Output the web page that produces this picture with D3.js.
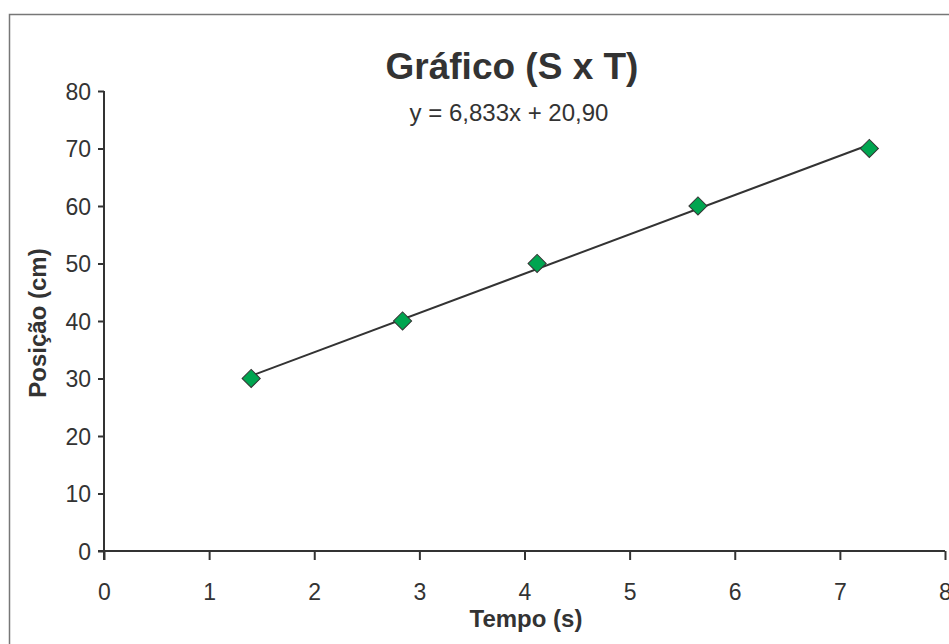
<!DOCTYPE html>
<html>
<head>
<meta charset="utf-8">
<script src="https://cdn.jsdelivr.net/npm/d3@7"></script>
<style>
  body { margin: 0; background: #fff; }
  svg { display: block; font-family: "Liberation Sans", Arial, sans-serif; }
</style>
</head>
<body>
<div id="chart"></div>
<script>
// data
const tempo = [1.40, 2.84, 4.12, 5.65, 7.28];
const posicao = [30, 40, 50, 60, 70];
const xTicks = [0, 1, 2, 3, 4, 5, 6, 7, 8];
const yTicks = [0, 10, 20, 30, 40, 50, 60, 70, 80];
// trendline shown in the chart
const slope = 6.833;
const intercept = 20.90;
const equationLabel = 'y = 6,833x + 20,90';

const width = 949, height = 644;
const margin = { left: 104, right: 4, top: 91, bottom: 93 };

const svg = d3.select('#chart').append('svg')
  .attr('width', width)
  .attr('height', height);

// outer chart border (only left and top visible in the frame)
svg.append('rect')
  .attr('x', 9.5).attr('y', 14.5)
  .attr('width', 1000).attr('height', 700)
  .attr('fill', 'none')
  .attr('stroke', '#777')
  .attr('stroke-width', 1.5);

const x = d3.scaleLinear().domain([0, 8]).range([margin.left, width - margin.right]);
const y = d3.scaleLinear().domain([0, 80]).range([height - margin.bottom, margin.top]);

// y axis
const yAxis = svg.append('g')
  .attr('transform', `translate(${x(0)},0)`)
  .call(d3.axisLeft(y).tickValues(yTicks).tickSize(6).tickSizeOuter(0).tickPadding(7));
yAxis.select('.domain').attr('stroke', '#333').attr('stroke-width', 2)
  .attr('d', `M0,${y(80)}V${y(0) + 9}`);
yAxis.selectAll('.tick line').attr('stroke', '#333').attr('stroke-width', 2);
yAxis.selectAll('.tick text')
  .attr('fill', '#333')
  .style('font-size', '23px')
  .attr('dy', '0.35em');

// x axis
const xAxis = svg.append('g')
  .attr('transform', `translate(0,${y(0)})`)
  .call(d3.axisBottom(x).tickValues(xTicks).tickSize(9).tickSizeOuter(0).tickPadding(24));
xAxis.select('.domain').attr('stroke', '#333').attr('stroke-width', 2)
  .attr('d', `M${x(0) - 6},0H${x(8)}`);
xAxis.selectAll('.tick line').attr('stroke', '#333').attr('stroke-width', 2);
xAxis.selectAll('.tick text')
  .attr('fill', '#333')
  .style('font-size', '23px');

// trendline between first and last point
const xMin = d3.min(tempo), xMax = d3.max(tempo);
svg.append('line')
  .attr('x1', x(xMin)).attr('y1', y(slope * xMin + intercept))
  .attr('x2', x(xMax)).attr('y2', y(slope * xMax + intercept))
  .attr('stroke', '#333')
  .attr('stroke-width', 2);

// diamond markers
const diamond = d3.symbol().type(d3.symbolSquare).size(165);
svg.selectAll('.pt')
  .data(tempo.map((t, i) => [t, posicao[i]]))
  .enter().append('path')
  .attr('class', 'pt')
  .attr('d', diamond)
  .attr('transform', d => `translate(${x(d[0])},${y(d[1])}) rotate(45)`)
  .attr('fill', '#00a550')
  .attr('stroke', '#333')
  .attr('stroke-width', 1);

// title
svg.append('text')
  .attr('x', 512).attr('y', 79)
  .attr('text-anchor', 'middle')
  .style('font-size', '37px')
  .style('font-weight', 'bold')
  .attr('fill', '#333')
  .text('Gráfico (S x T)');

// equation
svg.append('text')
  .attr('x', 509).attr('y', 121)
  .attr('text-anchor', 'middle')
  .style('font-size', '24px')
  .attr('fill', '#333')
  .text(equationLabel);

// axis titles
svg.append('text')
  .attr('x', 526).attr('y', 627)
  .attr('text-anchor', 'middle')
  .style('font-size', '24px')
  .style('font-weight', 'bold')
  .attr('fill', '#333')
  .text('Tempo (s)');

svg.append('text')
  .attr('transform', 'translate(46,323) rotate(-90)')
  .attr('text-anchor', 'middle')
  .style('font-size', '24px')
  .style('font-weight', 'bold')
  .attr('fill', '#333')
  .text('Posição (cm)');
</script>
</body>
</html>
